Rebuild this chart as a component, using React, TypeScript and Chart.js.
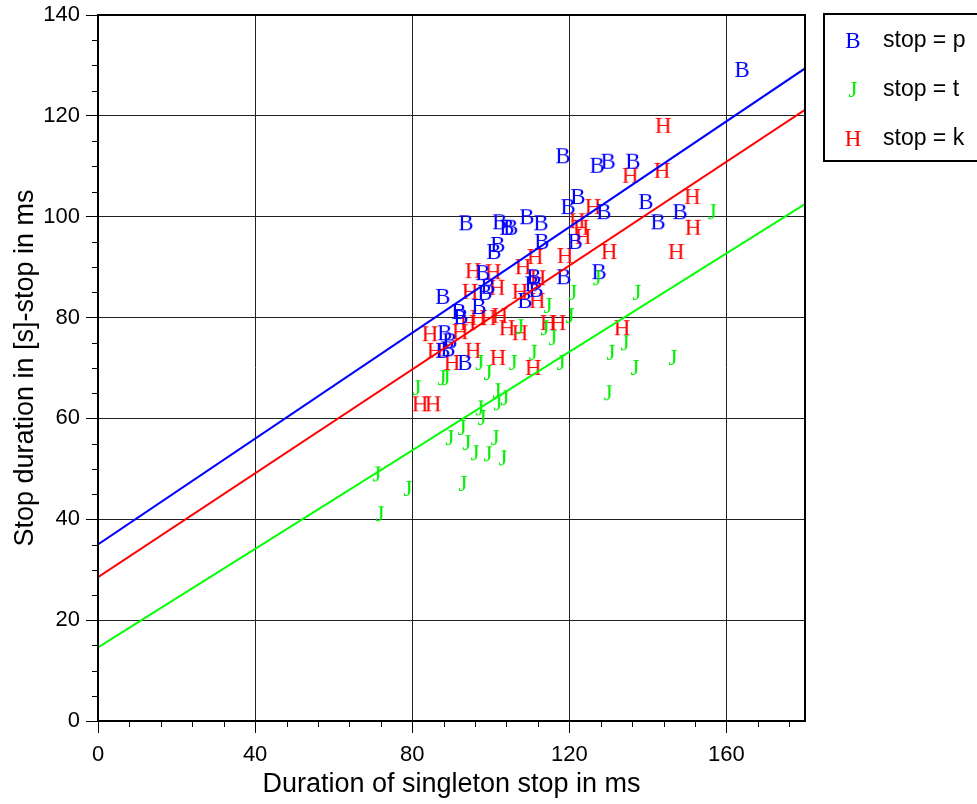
import React, { useEffect, useRef } from "react";
import { Chart, registerables } from "chart.js";

Chart.register(...registerables);

// stop = p  (marker "B")
const pX = [164.0, 118.4, 127.1, 129.9, 136.2, 122.2, 119.7, 139.5, 148.2, 142.6, 128.8, 93.7, 102.3, 104.1, 105.1, 109.2, 112.8, 101.8, 100.8, 113.0, 121.5, 118.6, 111.0, 110.5, 108.7, 127.6, 87.8, 91.9, 92.4, 97.0, 99.3, 98.5, 98.0, 88.3, 89.6, 89.1, 87.8, 93.4, 111.5];
const pY = [129.3, 112.2, 110.3, 111.1, 111.1, 104.1, 102.1, 103.1, 101.1, 99.1, 101.1, 98.9, 99.1, 98.0, 98.0, 100.1, 98.9, 94.6, 93.2, 95.2, 95.2, 88.2, 88.2, 86.8, 83.5, 89.2, 84.3, 81.3, 80.3, 82.3, 86.3, 85.1, 89.0, 77.1, 75.5, 73.9, 73.6, 71.2, 85.7];

// stop = t  (marker "J")
const tX = [156.4, 127.1, 120.9, 137.2, 114.6, 120.2, 113.8, 107.4, 115.8, 110.8, 105.7, 97.2, 99.3, 87.6, 88.6, 81.2, 101.6, 103.6, 101.8, 97.2, 97.8, 92.7, 89.6, 93.9, 101.1, 96.0, 99.3, 103.1, 78.9, 92.9, 129.9, 134.2, 130.6, 136.7, 146.4, 117.9, 71.0, 71.8];
const tY = [101.1, 88.0, 85.1, 85.1, 82.5, 80.5, 78.1, 78.3, 76.1, 73.2, 71.2, 71.2, 69.2, 68.2, 68.2, 66.2, 65.6, 64.2, 63.2, 62.2, 60.3, 58.3, 56.3, 55.3, 56.3, 53.3, 53.1, 52.3, 46.2, 47.2, 65.2, 75.1, 73.2, 70.2, 72.2, 71.2, 49.1, 41.2];

// stop = k  (marker "H")
const kX = [143.9, 135.5, 143.6, 151.3, 151.5, 147.2, 130.1, 126.0, 122.0, 123.0, 123.5, 111.3, 118.9, 108.2, 95.5, 100.6, 94.7, 101.6, 107.4, 111.8, 112.0, 114.6, 117.1, 84.5, 92.2, 94.2, 96.8, 99.4, 102.3, 104.1, 107.4, 85.8, 90.1, 95.5, 101.8, 110.8, 82.0, 85.3, 133.4];
const kY = [118.2, 108.3, 109.3, 104.1, 98.0, 93.2, 93.2, 102.1, 99.3, 98.0, 96.2, 92.2, 92.4, 90.2, 89.4, 89.2, 85.3, 86.1, 85.3, 83.5, 88.0, 79.1, 79.1, 76.9, 77.3, 79.1, 80.1, 80.1, 80.5, 78.1, 77.1, 73.6, 71.2, 73.6, 72.2, 70.2, 63.0, 63.0, 78.1];

// regression lines (value at x = 0 and x = 180)
const fitX = [0, 180];
const fitP = [35.0, 129.4];
const fitT = [14.6, 102.5];
const fitK = [28.5, 121.2];

const xTicks = [0, 40, 80, 120, 160];
const yTicks = [0, 20, 40, 60, 80, 100, 120, 140];
const legendLabels = ["stop = p", "stop = t", "stop = k"];
const markers = ["B", "J", "H"];
const colors = ["#0000ff", "#00ee00", "#ff0000"];

const SERIF = '"Liberation Serif", "Times New Roman", serif';
const SANS = '"Liberation Sans", Arial, Helvetica, sans-serif';

function makeMarker(letter: string, color: string): HTMLCanvasElement {
  const c = document.createElement("canvas");
  c.width = 28;
  c.height = 30;
  const ctx = c.getContext("2d")!;
  ctx.font = `23px ${SERIF}`;
  ctx.fillStyle = color;
  ctx.textAlign = "center";
  ctx.textBaseline = "alphabetic";
  ctx.fillText(letter, 14, 15 + 7.6);
  return c;
}

export default function App() {
  const ref = useRef<HTMLCanvasElement | null>(null);

  useEffect(() => {
    if (!ref.current) return;
    const imgs = markers.map((m, i) => makeMarker(m, colors[i]));
    const pts = (xs: number[], ys: number[]) => xs.map((x, i) => ({ x, y: ys[i] }));

    const frame = {
      id: "frameAndLegend",
      afterDraw(chart: any) {
        const { ctx, chartArea: a, scales } = chart;
        ctx.save();
        // minor ticks
        ctx.strokeStyle = "#000";
        ctx.lineWidth = 1;
        for (let v = 8; v < 180; v += 8) {
          if (v % 40 === 0) continue;
          const px = Math.round(scales.x.getPixelForValue(v)) + 0.5;
          ctx.beginPath();
          ctx.moveTo(px, a.bottom);
          ctx.lineTo(px, a.bottom + 6);
          ctx.stroke();
        }
        for (let v = 5; v < 140; v += 5) {
          if (v % 20 === 0) continue;
          const py = Math.round(scales.y.getPixelForValue(v)) + 0.5;
          ctx.beginPath();
          ctx.moveTo(a.left - 6, py);
          ctx.lineTo(a.left, py);
          ctx.stroke();
        }
        // frame
        ctx.lineWidth = 2;
        ctx.strokeRect(a.left, a.top, a.right - a.left, a.bottom - a.top);
        // legend
        ctx.strokeRect(824, 14, 160, 147);
        const ys = [40, 89, 138];
        ys.forEach((y, i) => {
          ctx.drawImage(imgs[i], 853 - 14, y - 15);
          ctx.font = `23px ${SANS}`;
          ctx.fillStyle = "#000";
          ctx.textAlign = "left";
          ctx.textBaseline = "middle";
          ctx.fillText(legendLabels[i], 883, y + 1);
        });
        ctx.restore();
      },
    };

    const chart = new Chart(ref.current, {
      type: "scatter",
      data: {
        datasets: [
          { label: "fit p", data: pts(fitX, fitP), showLine: true, borderColor: colors[0], borderWidth: 2, pointRadius: 0 },
          { label: "fit t", data: pts(fitX, fitT), showLine: true, borderColor: "#00ff00", borderWidth: 2, pointRadius: 0 },
          { label: "fit k", data: pts(fitX, fitK), showLine: true, borderColor: colors[2], borderWidth: 2, pointRadius: 0 },
          { label: legendLabels[1], data: pts(tX, tY), pointStyle: imgs[1] as any, pointRadius: 10 },
          { label: legendLabels[0], data: pts(pX, pY), pointStyle: imgs[0] as any, pointRadius: 10 },
          { label: legendLabels[2], data: pts(kX, kY), pointStyle: imgs[2] as any, pointRadius: 10 },
        ],
      },
      options: {
        responsive: false,
        animation: false,
        layout: { padding: { top: 15, right: 172, left: 0, bottom: 0 } },
        plugins: { legend: { display: false }, tooltip: { enabled: false } },
        scales: {
          x: {
            type: "linear",
            min: 0,
            max: 180,
            afterBuildTicks: (s: any) => { s.ticks = xTicks.map((v) => ({ value: v })); },
            afterFit: (s: any) => { s.height = 83; s.paddingLeft = 0; s.paddingRight = 0; },
            grid: { color: "#222", lineWidth: 1, tickLength: 12, tickColor: "#000" },
            border: { display: true, color: "#000", width: 2 },
            ticks: { color: "#000", font: { family: SANS, size: 22 }, padding: 9, maxRotation: 0 },
            title: { display: true, text: "Duration of singleton stop in ms", color: "#000", font: { family: SANS, size: 27 }, padding: { top: 0, bottom: 3 } },
          },
          y: {
            type: "linear",
            min: 0,
            max: 140,
            afterBuildTicks: (s: any) => { s.ticks = yTicks.map((v) => ({ value: v })); },
            afterFit: (s: any) => { s.width = 98; s.paddingTop = 0; s.paddingBottom = 0; },
            grid: { color: "#222", lineWidth: 1, tickLength: 12, tickColor: "#000" },
            border: { display: true, color: "#000", width: 2 },
            ticks: { color: "#000", font: { family: SANS, size: 22 }, padding: 6 },
            title: { display: true, text: "Stop duration in [s]-stop in ms", color: "#000", font: { family: SANS, size: 27 }, padding: { top: 9, bottom: 0 } },
          },
        },
      },
      plugins: [frame],
    });
    return () => chart.destroy();
  }, []);

  return (
    <div style={{ position: "absolute", left: 0, top: 0, width: 977, height: 804, background: "#fff" }}>
      <canvas ref={ref} width={977} height={804} style={{ display: "block" }} />
    </div>
  );
}
